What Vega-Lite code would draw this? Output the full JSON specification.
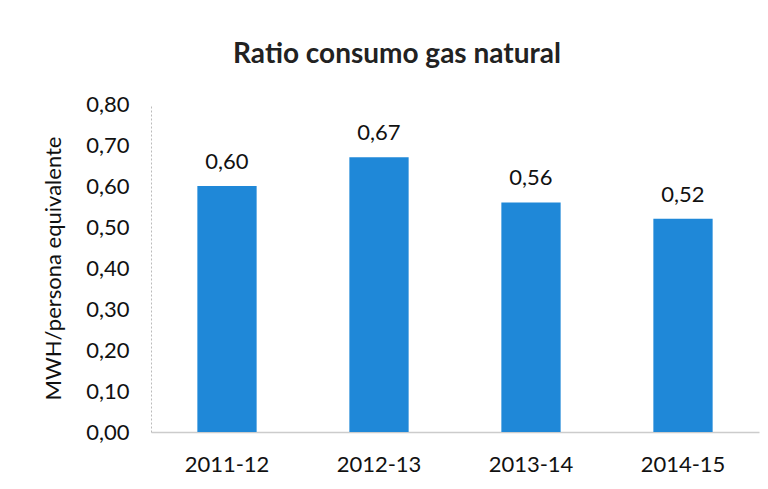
{
  "$schema": "https://vega.github.io/schema/vega-lite/v6.json",
  "width": 608,
  "height": 328,
  "autosize": {"type": "none"},
  "padding": {"left": 151, "top": 104, "right": 9, "bottom": 57},
  "background": "white",
  "config": {
    "view": {"stroke": null},
    "font": "Lato",
    "locale": {"number": {"decimal": ",", "thousands": ".", "grouping": [3], "currency": ["", " €"]}}
  },
  "title": {"text": "Ratio consumo gas natural", "fontSize": 28, "font": "Lato", "fontWeight": "bold", "color": "#222222", "anchor": "middle", "dx": -58, "offset": 24},
  "data": {"values": [
    {"year": "2011-12", "value": 0.60},
    {"year": "2012-13", "value": 0.67},
    {"year": "2013-14", "value": 0.56},
    {"year": "2014-15", "value": 0.52}
  ]},
  "encoding": {
    "x": {"field": "year", "type": "nominal", "sort": null,
      "scale": {"paddingInner": 0.61, "paddingOuter": 0.305},
      "axis": {"title": null, "labelAngle": 0, "labelFontSize": 22, "labelColor": "#111111", "labelPadding": 22, "ticks": false, "domainColor": "#cccccc", "domainWidth": 1.5}},
    "y": {"field": "value", "type": "quantitative",
      "scale": {"domain": [0, 0.8]},
      "axis": {"title": "MWH/persona equivalente", "titleFontSize": 22, "titleFontWeight": "normal", "titleColor": "#111111", "titlePadding": 20,
        "format": ".2f", "values": [0, 0.1, 0.2, 0.3, 0.4, 0.5, 0.6, 0.7, 0.8], "labelOverlap": false, "labelFlush": false,
        "labelFontSize": 22, "labelColor": "#111111", "labelPadding": 22, "ticks": false, "grid": false, "domainColor": "#bbbbbb", "domainDash": [2, 2]}}
  },
  "layer": [
    {"mark": {"type": "bar", "color": "#1f88d8"}},
    {"mark": {"type": "text", "dy": -24, "fontSize": 22, "color": "#111111"},
     "encoding": {"text": {"field": "value", "type": "quantitative", "format": ".2f"}}}
  ]
}
